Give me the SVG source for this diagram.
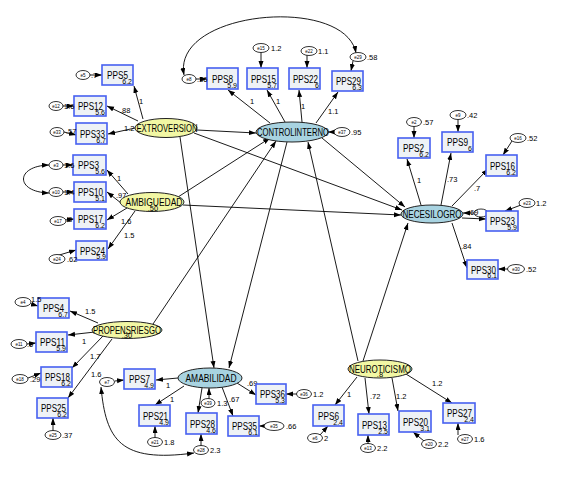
<svg xmlns="http://www.w3.org/2000/svg" width="573" height="480" viewBox="0 0 573 480">
<defs>
<marker id="ah" markerUnits="userSpaceOnUse" markerWidth="8" markerHeight="6" refX="7" refY="2.5" orient="auto-start-reverse"><path d="M0,0 L7,2.5 L0,5 z" fill="#000"/></marker>
<style>
.bx{fill:#eef2f6;stroke:#4660f0;stroke-width:1.6}
.ex{fill:#f2f7a4;stroke:#222;stroke-width:1}
.en{fill:#a8d3e1;stroke:#222;stroke-width:1}
.er{fill:#fff;stroke:#000;stroke-width:0.8}
.c line,.c path{stroke:#000;stroke-width:0.9;fill:none;marker-end:url(#ah)}
.c .cov{marker-start:url(#ah)}
text{font-family:"Liberation Sans",Arial,sans-serif;fill:#000}
.n{font-size:10px}
.l{font-size:11px}
.s{font-size:7px;text-anchor:end}
.v{font-size:7.5px}
.e{font-size:4.5px;text-anchor:middle}
.m{text-anchor:middle}
</style>
</defs>
<rect width="573" height="480" fill="#fff"/>
<g id="connectors" class="c">
<!-- structural -->
<line x1="197" y1="130" x2="256" y2="133"/>
<line x1="194" y1="133" x2="402" y2="210"/>
<line x1="180" y1="137" x2="214" y2="368"/>
<line x1="178" y1="197" x2="270" y2="138"/>
<line x1="183" y1="205" x2="401" y2="215"/>
<line x1="153" y1="324" x2="276" y2="141"/>
<line x1="322" y1="138" x2="405" y2="207"/>
<line x1="287" y1="142" x2="229" y2="368"/>
<line x1="358" y1="361" x2="308" y2="142"/>
<line x1="363" y1="361" x2="408" y2="223"/>
<!-- loadings -->
<line x1="143" y1="119" x2="134" y2="86"/>
<line x1="138" y1="121" x2="107" y2="106"/>
<line x1="135" y1="128" x2="108" y2="134"/>
<line x1="128" y1="194" x2="107" y2="170"/>
<line x1="121" y1="203" x2="107" y2="192"/>
<line x1="127" y1="208" x2="107" y2="220"/>
<line x1="135" y1="211" x2="108" y2="249"/>
<line x1="270" y1="123" x2="228" y2="90"/>
<line x1="285" y1="122" x2="267" y2="90"/>
<line x1="302" y1="122" x2="299" y2="90"/>
<line x1="316" y1="123" x2="338" y2="92"/>
<line x1="421" y1="205" x2="407" y2="159"/>
<line x1="441" y1="205" x2="451" y2="153"/>
<line x1="452" y1="206" x2="488" y2="169"/>
<line x1="462" y1="218" x2="486" y2="219"/>
<line x1="452" y1="223" x2="467" y2="268"/>
<line x1="98" y1="323" x2="70" y2="311"/>
<line x1="95" y1="332" x2="68" y2="335"/>
<line x1="103" y1="336" x2="72" y2="368"/>
<line x1="112" y1="339" x2="68" y2="398"/>
<line x1="178" y1="378" x2="156" y2="380"/>
<line x1="184" y1="386" x2="155" y2="405"/>
<line x1="202" y1="388" x2="198" y2="413"/>
<line x1="222" y1="387" x2="233" y2="416"/>
<line x1="237" y1="383" x2="256" y2="395"/>
<line x1="357" y1="377" x2="335" y2="405"/>
<line x1="365" y1="378" x2="369" y2="414"/>
<line x1="392" y1="378" x2="398" y2="411"/>
<line x1="406" y1="374" x2="452" y2="403"/>
<!-- error arrows -->
<line x1="90" y1="75" x2="102" y2="75"/>
<line x1="63" y1="106" x2="74" y2="106"/>
<line x1="64" y1="132" x2="76" y2="135"/>
<line x1="63" y1="165" x2="73" y2="165"/>
<line x1="63" y1="192" x2="74" y2="192"/>
<line x1="65" y1="220" x2="74" y2="219"/>
<line x1="56" y1="256" x2="76" y2="250"/>
<line x1="196" y1="79" x2="207" y2="79"/>
<line x1="261" y1="52" x2="261" y2="68"/>
<line x1="307" y1="55" x2="307" y2="68"/>
<line x1="353" y1="61" x2="351" y2="71"/>
<line x1="414" y1="126" x2="414" y2="138"/>
<line x1="458" y1="119" x2="458" y2="132"/>
<line x1="512" y1="141" x2="503" y2="155"/>
<line x1="521" y1="205" x2="505" y2="211"/>
<line x1="508" y1="269" x2="498" y2="269"/>
<line x1="31" y1="304" x2="38" y2="306"/>
<line x1="27" y1="344" x2="36" y2="343"/>
<line x1="28" y1="378" x2="41" y2="373"/>
<line x1="53" y1="431" x2="53" y2="418"/>
<line x1="115" y1="381" x2="124" y2="380"/>
<line x1="155" y1="438" x2="155" y2="426"/>
<line x1="201" y1="446" x2="201" y2="434"/>
<line x1="264" y1="426" x2="259" y2="426"/>
<line x1="297" y1="394" x2="286" y2="394"/>
<line x1="320" y1="435" x2="328" y2="426"/>
<line x1="368" y1="444" x2="368" y2="435"/>
<line x1="424" y1="441" x2="413" y2="432"/>
<line x1="458" y1="435" x2="458" y2="423"/>
<line x1="334" y1="132" x2="328" y2="132"/>
<line x1="473" y1="213" x2="463" y2="213"/>
<line x1="209" y1="399" x2="209" y2="388"/>
<!-- covariances -->
<path class="cov" d="M49,165 C15,166 15,192 49,193"/>
<path class="cov" d="M184,75 C172,10 345,-5 356,53"/>
<path class="cov" d="M101,387 C106,440 120,463 194,453"/>
</g>
<g id="lbl-paths">
<text class="v" x="139" y="104">1</text>
<text class="v" x="120" y="113">.88</text>
<text class="v" x="124" y="131">1.2</text>
<text class="v" x="117" y="181">1</text>
<text class="v" x="116" y="198">.97</text>
<text class="v" x="121" y="224">1.6</text>
<text class="v" x="124" y="238">1.5</text>
<text class="v" x="250" y="104">1</text>
<text class="v" x="276" y="104">1</text>
<text class="v" x="301" y="109">1</text>
<text class="v" x="328" y="114">1.1</text>
<text class="v" x="417" y="183">1</text>
<text class="v" x="447" y="182">.73</text>
<text class="v" x="474" y="191">.7</text>
<text class="v" x="461" y="249">.84</text>
<text class="v" x="85" y="314">1.5</text>
<text class="v" x="82" y="344">1</text>
<text class="v" x="90" y="359">1.7</text>
<text class="v" x="91" y="377">1.6</text>
<text class="v" x="166" y="388">1</text>
<text class="v" x="170" y="402">1</text>
<text class="v" x="229" y="402">.67</text>
<text class="v" x="247" y="386">.69</text>
<text class="v" x="347" y="397">1</text>
<text class="v" x="370" y="399">.72</text>
<text class="v" x="396" y="399">1.2</text>
<text class="v" x="432" y="386">1.2</text>
</g>
<g id="EXTROVERSION"><ellipse class="ex" cx="166" cy="128" rx="31" ry="9.5"/><text class="l m" x="167" y="132" textLength="61" lengthAdjust="spacingAndGlyphs">EXTROVERSION</text></g>
<g id="AMBIGUEDAD"><ellipse class="ex" cx="152" cy="202" rx="32" ry="9.5"/><text class="l m" x="154" y="206" textLength="57" lengthAdjust="spacingAndGlyphs">AMBIGUEDAD</text><text class="v m" x="153" y="211">.50</text></g>
<g id="PROPENSRIESGO"><ellipse class="ex" cx="127" cy="330" rx="35" ry="8.5"/><text class="l m" x="127" y="334" textLength="68" lengthAdjust="spacingAndGlyphs">PROPENSRIESGO</text><text class="v m" x="127" y="338">.30</text></g>
<g id="NEUROTICISMO"><ellipse class="ex" cx="380" cy="369" rx="32" ry="9"/><text class="l m" x="380" y="373" textLength="62" lengthAdjust="spacingAndGlyphs">NEUROTICISMO</text><text class="v m" x="380" y="377">.8</text></g>
<g id="CONTROLINTERNO"><ellipse class="en" cx="292" cy="132" rx="36" ry="10"/><text class="l m" x="293" y="136" textLength="72" lengthAdjust="spacingAndGlyphs">CONTROLINTERNO</text><ellipse class="er" cx="342" cy="132" rx="8" ry="4.5"/><text class="e" x="342" y="134">e37</text><text class="v" x="351" y="135">.95</text></g>
<g id="NECESILOGRO"><ellipse class="en" cx="432" cy="214" rx="31" ry="9"/><text class="l m" x="432" y="218" textLength="59" lengthAdjust="spacingAndGlyphs">NECESILOGRO</text><ellipse class="er" cx="481" cy="213" rx="7" ry="4"/><text class="v" x="468" y="215">.69</text></g>
<g id="AMABILIDAD"><ellipse class="en" cx="210" cy="378" rx="32" ry="10"/><text class="l m" x="211" y="382" textLength="51" lengthAdjust="spacingAndGlyphs">AMABILIDAD</text><ellipse class="er" cx="208" cy="403" rx="7" ry="4.5"/><text class="e" x="208" y="405">e39</text><text class="v" x="217" y="406">1.3</text></g>
<g id="PPS5"><rect class="bx" x="102" y="65" width="31" height="20"/><text class="n" x="107" y="79" textLength="21" lengthAdjust="spacingAndGlyphs">PPS5</text><text class="s" x="132" y="84">6.2</text><ellipse class="er" cx="83" cy="75" rx="7" ry="4.5"/><text class="e" x="83" y="77">e5</text><text class="v" x="91" y="78">.7</text></g>
<g id="PPS12"><rect class="bx" x="74" y="96" width="32" height="20"/><text class="n" x="78" y="110" textLength="25" lengthAdjust="spacingAndGlyphs">PPS12</text><text class="s" x="105" y="115">5.6</text><ellipse class="er" cx="56" cy="106" rx="7" ry="4.5"/><text class="e" x="56" y="108">e12</text><text class="v" x="64" y="109">1.6</text></g>
<g id="PPS33"><rect class="bx" x="76" y="123" width="31" height="21"/><text class="n" x="80" y="138" textLength="25" lengthAdjust="spacingAndGlyphs">PPS33</text><text class="s" x="106" y="143">6.7</text><ellipse class="er" cx="57" cy="132" rx="7" ry="4.5"/><text class="e" x="57" y="134">e33</text><text class="v" x="66" y="134">.57</text></g>
<g id="PPS3"><rect class="bx" x="73" y="155" width="33" height="20"/><text class="n" x="78" y="169" textLength="21" lengthAdjust="spacingAndGlyphs">PPS3</text><text class="s" x="105" y="174">5.6</text><ellipse class="er" cx="56" cy="165" rx="7" ry="4.5"/><text class="e" x="56" y="167">e3</text><text class="v" x="64" y="168">1.6</text></g>
<g id="PPS10"><rect class="bx" x="74" y="182" width="32" height="20"/><text class="n" x="78" y="196" textLength="25" lengthAdjust="spacingAndGlyphs">PPS10</text><text class="s" x="105" y="201">5.1</text><ellipse class="er" cx="56" cy="192" rx="7" ry="4.5"/><text class="e" x="56" y="194">e10</text><text class="v" x="64" y="195">1.4</text></g>
<g id="PPS17"><rect class="bx" x="74" y="209" width="32" height="20"/><text class="n" x="78" y="223" textLength="25" lengthAdjust="spacingAndGlyphs">PPS17</text><text class="s" x="105" y="228">6.2</text><ellipse class="er" cx="58" cy="221" rx="8" ry="4.5"/><text class="e" x="58" y="223">e17</text><text class="v" x="66" y="222">.8</text></g>
<g id="PPS24"><rect class="bx" x="76" y="241" width="31" height="19"/><text class="n" x="80" y="255" textLength="25" lengthAdjust="spacingAndGlyphs">PPS24</text><text class="s" x="106" y="259">5.9</text><ellipse class="er" cx="57" cy="259" rx="8" ry="4.5"/><text class="e" x="57" y="261">e24</text><text class="v" x="67" y="262">.62</text></g>
<g id="PPS8"><rect class="bx" x="207" y="68" width="31" height="21"/><text class="n" x="212" y="83" textLength="21" lengthAdjust="spacingAndGlyphs">PPS8</text><text class="s" x="237" y="88">5.9</text><ellipse class="er" cx="189" cy="79" rx="7" ry="4.5"/><text class="e" x="189" y="81">e8</text><text class="v" x="197" y="82">.36</text></g>
<g id="PPS15"><rect class="bx" x="247" y="68" width="31" height="21"/><text class="n" x="251" y="83" textLength="25" lengthAdjust="spacingAndGlyphs">PPS15</text><text class="s" x="277" y="88">5.7</text><ellipse class="er" cx="261" cy="48" rx="8" ry="4.5"/><text class="e" x="261" y="50">e15</text><text class="v" x="271" y="51">1.2</text></g>
<g id="PPS22"><rect class="bx" x="289" y="68" width="31" height="21"/><text class="n" x="293" y="83" textLength="25" lengthAdjust="spacingAndGlyphs">PPS22</text><text class="s" x="319" y="88">6</text><ellipse class="er" cx="309" cy="51" rx="8" ry="4.5"/><text class="e" x="309" y="53">e22</text><text class="v" x="318" y="54">1.1</text></g>
<g id="PPS29"><rect class="bx" x="332" y="71" width="31" height="20"/><text class="n" x="336" y="85" textLength="25" lengthAdjust="spacingAndGlyphs">PPS29</text><text class="s" x="362" y="90">6.3</text><ellipse class="er" cx="358" cy="57" rx="8" ry="4.5"/><text class="e" x="358" y="59">e29</text><text class="v" x="367" y="60">.58</text></g>
<g id="PPS2"><rect class="bx" x="398" y="138" width="32" height="20"/><text class="n" x="403" y="152" textLength="21" lengthAdjust="spacingAndGlyphs">PPS2</text><text class="s" x="429" y="157">6.2</text><ellipse class="er" cx="414" cy="122" rx="7.5" ry="4.5"/><text class="e" x="414" y="124">e2</text><text class="v" x="423" y="125">.57</text></g>
<g id="PPS9"><rect class="bx" x="442" y="132" width="31" height="20"/><text class="n" x="447" y="146" textLength="21" lengthAdjust="spacingAndGlyphs">PPS9</text><text class="s" x="472" y="151">6</text><ellipse class="er" cx="458" cy="115" rx="8" ry="4.5"/><text class="e" x="458" y="117">e9</text><text class="v" x="467" y="118">.42</text></g>
<g id="PPS16"><rect class="bx" x="486" y="155" width="31" height="21"/><text class="n" x="490" y="170" textLength="25" lengthAdjust="spacingAndGlyphs">PPS16</text><text class="s" x="516" y="175">6.2</text><ellipse class="er" cx="518" cy="138" rx="8" ry="4.5"/><text class="e" x="518" y="140">e16</text><text class="v" x="527" y="141">.52</text></g>
<g id="PPS23"><rect class="bx" x="486" y="211" width="32" height="20"/><text class="n" x="490" y="225" textLength="25" lengthAdjust="spacingAndGlyphs">PPS23</text><text class="s" x="517" y="230">5.9</text><ellipse class="er" cx="527" cy="203" rx="8" ry="4.5"/><text class="e" x="527" y="205">e23</text><text class="v" x="536" y="206">1.2</text></g>
<g id="PPS30"><rect class="bx" x="467" y="260" width="31" height="19"/><text class="n" x="471" y="274" textLength="25" lengthAdjust="spacingAndGlyphs">PPS30</text><text class="s" x="497" y="278">6.1</text><ellipse class="er" cx="516" cy="269" rx="8.5" ry="4.5"/><text class="e" x="516" y="271">e30</text><text class="v" x="526" y="272">.52</text></g>
<g id="PPS4"><rect class="bx" x="38" y="298" width="31" height="20"/><text class="n" x="43" y="312" textLength="21" lengthAdjust="spacingAndGlyphs">PPS4</text><text class="s" x="68" y="317">6.7</text><ellipse class="er" cx="23" cy="302" rx="8" ry="4.5"/><text class="e" x="23" y="304">e4</text><text class="v" x="31" y="302">1.5</text></g>
<g id="PPS11"><rect class="bx" x="36" y="332" width="31" height="20"/><text class="n" x="40" y="346" textLength="25" lengthAdjust="spacingAndGlyphs">PPS11</text><text class="s" x="66" y="351">5.9</text><ellipse class="er" cx="19" cy="344" rx="8" ry="4.5"/><text class="e" x="19" y="346">e11</text><text class="v" x="27" y="347">.6</text></g>
<g id="PPS18"><rect class="bx" x="41" y="367" width="31" height="20"/><text class="n" x="45" y="381" textLength="25" lengthAdjust="spacingAndGlyphs">PPS18</text><text class="s" x="71" y="386">6.2</text><ellipse class="er" cx="20" cy="379" rx="8" ry="4.5"/><text class="e" x="20" y="381">e18</text><text class="v" x="30" y="382">.29</text></g>
<g id="PPS25"><rect class="bx" x="37" y="398" width="31" height="20"/><text class="n" x="41" y="412" textLength="25" lengthAdjust="spacingAndGlyphs">PPS25</text><text class="s" x="67" y="417">6.2</text><ellipse class="er" cx="53" cy="435" rx="8" ry="4.5"/><text class="e" x="53" y="437">e25</text><text class="v" x="62" y="438">.37</text></g>
<g id="PPS7"><rect class="bx" x="124" y="369" width="31" height="20"/><text class="n" x="129" y="383" textLength="21" lengthAdjust="spacingAndGlyphs">PPS7</text><text class="s" x="154" y="388">4.9</text><ellipse class="er" cx="107" cy="382" rx="7.5" ry="4.5"/><text class="e" x="107" y="384">e7</text></g>
<g id="PPS21"><rect class="bx" x="139" y="405" width="31" height="21"/><text class="n" x="143" y="420" textLength="25" lengthAdjust="spacingAndGlyphs">PPS21</text><text class="s" x="169" y="425">4.9</text><ellipse class="er" cx="155" cy="442" rx="7.5" ry="4.5"/><text class="e" x="155" y="444">e21</text><text class="v" x="164" y="445">1.8</text></g>
<g id="PPS28"><rect class="bx" x="186" y="413" width="31" height="21"/><text class="n" x="190" y="428" textLength="25" lengthAdjust="spacingAndGlyphs">PPS28</text><text class="s" x="216" y="433">4.6</text><ellipse class="er" cx="201" cy="450" rx="7.5" ry="4.5"/><text class="e" x="201" y="452">e28</text><text class="v" x="210" y="453">2.3</text></g>
<g id="PPS35"><rect class="bx" x="228" y="416" width="31" height="20"/><text class="n" x="232" y="430" textLength="25" lengthAdjust="spacingAndGlyphs">PPS35</text><text class="s" x="258" y="435">6.1</text><ellipse class="er" cx="274" cy="426" rx="10" ry="4.5"/><text class="e" x="274" y="428">e35</text><text class="v" x="286" y="429">.66</text></g>
<g id="PPS36"><rect class="bx" x="256" y="384" width="30" height="20"/><text class="n" x="260" y="398" textLength="25" lengthAdjust="spacingAndGlyphs">PPS36</text><text class="s" x="285" y="403">5.3</text><ellipse class="er" cx="304" cy="394" rx="7.5" ry="4.5"/><text class="e" x="304" y="396">e36</text><text class="v" x="313" y="397">1.2</text></g>
<g id="PPS6"><rect class="bx" x="313" y="405" width="31" height="21"/><text class="n" x="318" y="420" textLength="21" lengthAdjust="spacingAndGlyphs">PPS6</text><text class="s" x="343" y="425">2.4</text><ellipse class="er" cx="315" cy="438" rx="7.5" ry="4.5"/><text class="e" x="315" y="440">e6</text><text class="v" x="324" y="441">2</text></g>
<g id="PPS13"><rect class="bx" x="358" y="414" width="31" height="21"/><text class="n" x="362" y="429" textLength="25" lengthAdjust="spacingAndGlyphs">PPS13</text><text class="s" x="388" y="434">2.5</text><ellipse class="er" cx="368" cy="448" rx="7.5" ry="4.5"/><text class="e" x="368" y="450">e13</text><text class="v" x="377" y="451">2.2</text></g>
<g id="PPS20"><rect class="bx" x="399" y="411" width="32" height="21"/><text class="n" x="403" y="426" textLength="25" lengthAdjust="spacingAndGlyphs">PPS20</text><text class="s" x="430" y="431">3.1</text><ellipse class="er" cx="429" cy="444" rx="7.5" ry="4.5"/><text class="e" x="429" y="446">e20</text><text class="v" x="438" y="447">2.2</text></g>
<g id="PPS27"><rect class="bx" x="443" y="403" width="32" height="20"/><text class="n" x="447" y="417" textLength="25" lengthAdjust="spacingAndGlyphs">PPS27</text><text class="s" x="474" y="422">2.4</text><ellipse class="er" cx="465" cy="439" rx="7.5" ry="4.5"/><text class="e" x="465" y="441">e27</text><text class="v" x="474" y="442">1.6</text></g>
</svg>
